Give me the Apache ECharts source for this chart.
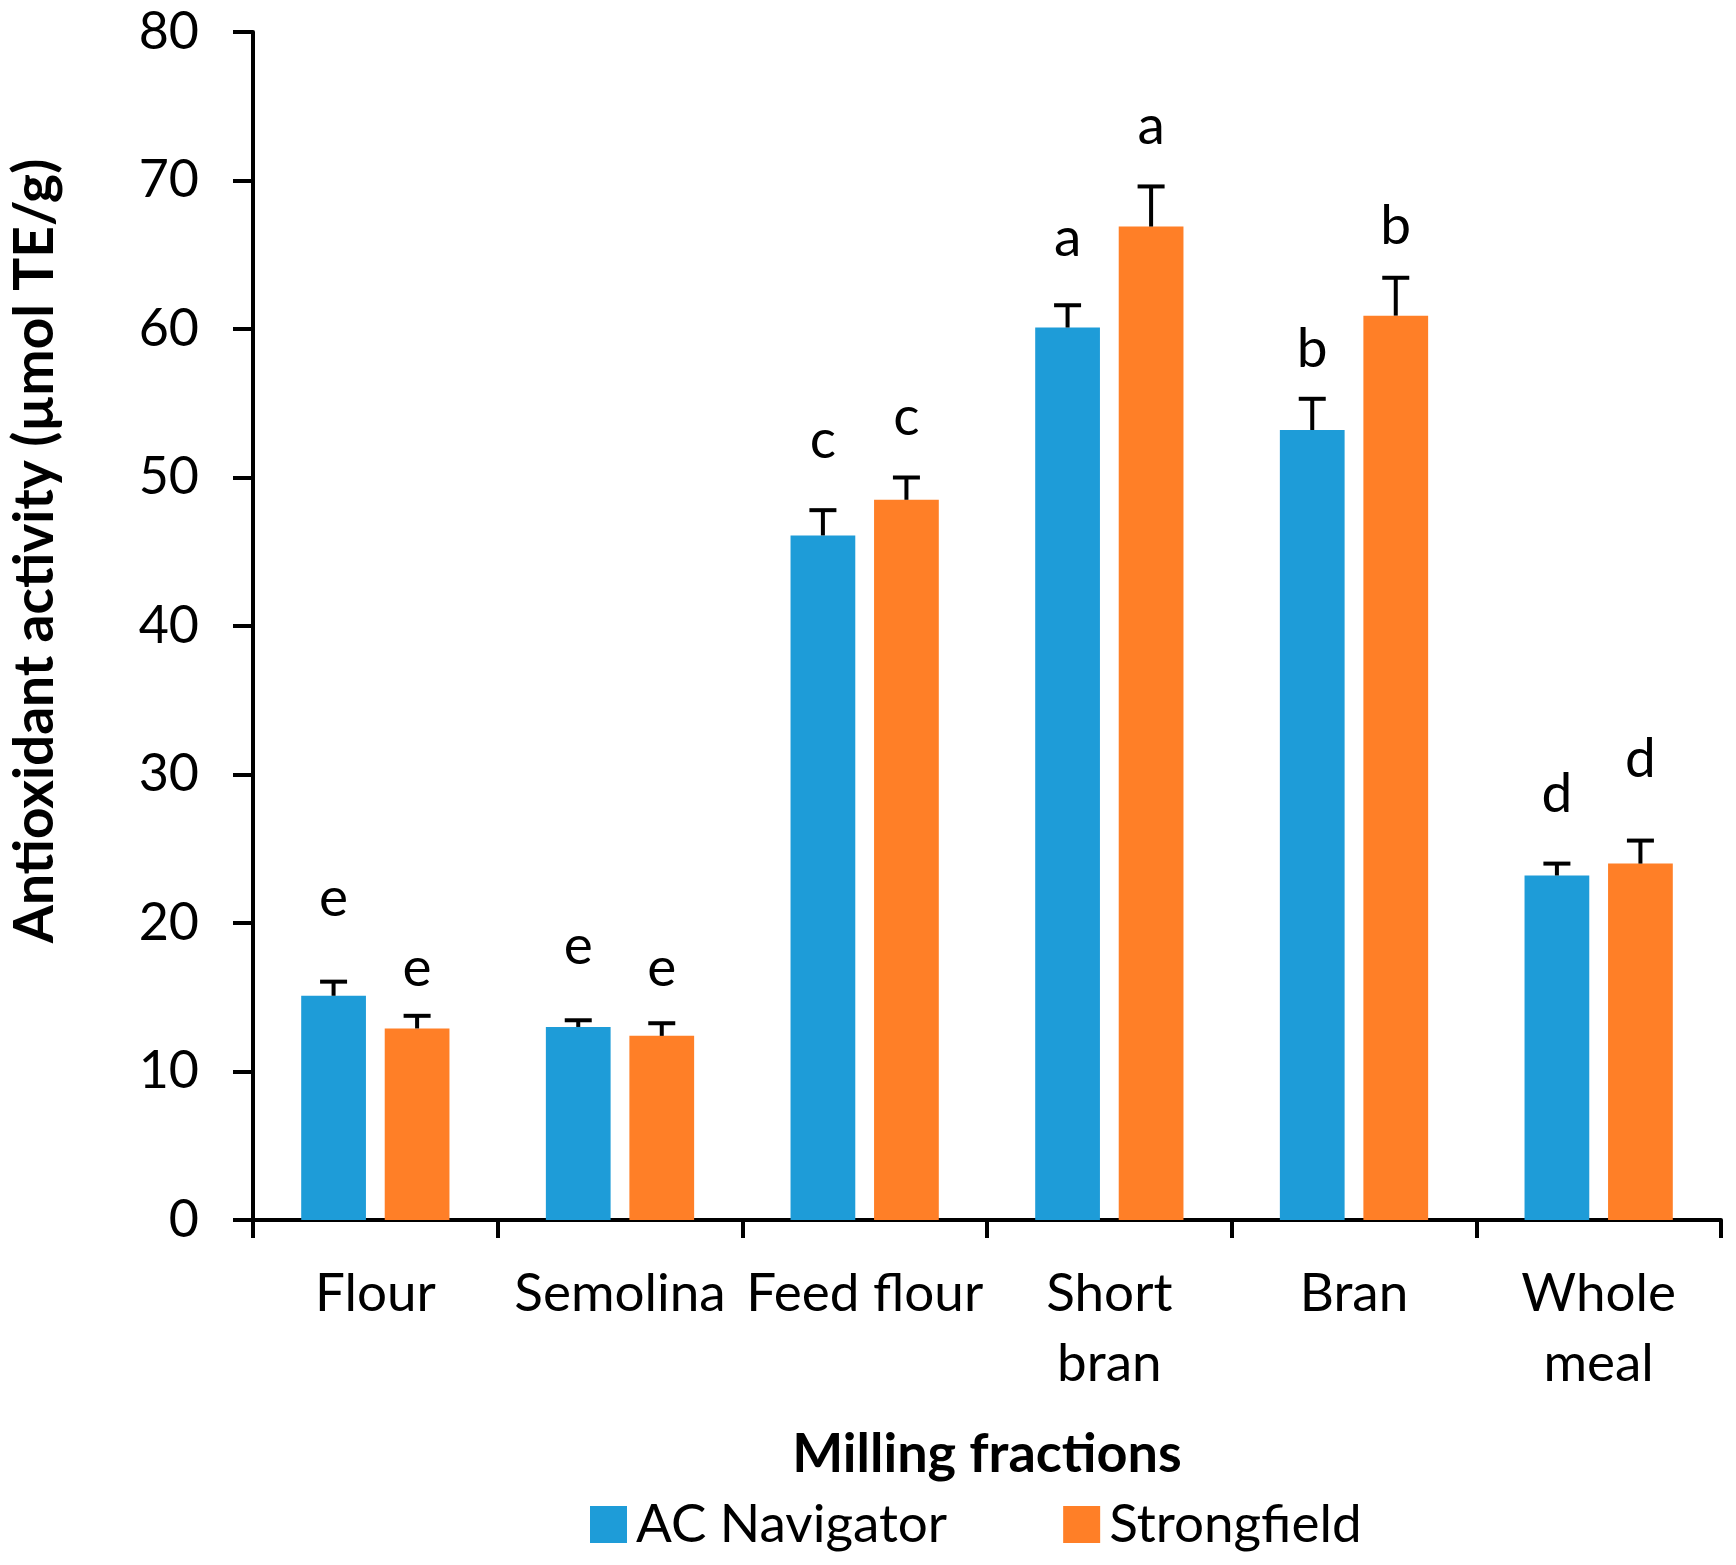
<!DOCTYPE html>
<html>
<head>
<meta charset="utf-8">
<script src="https://cdn.jsdelivr.net/npm/echarts@6/dist/echarts.min.js"></script>
<style>
html,body{margin:0;padding:0;background:#fff;}
#chart{width:1736px;height:1565px;}
</style>
</head>
<body>
<div id="chart"></div>
<script>
// ---- data ----
const categories = ['Flour', 'Semolina', 'Feed flour', 'Short\nbran', 'Bran', 'Whole\nmeal'];
const seriesNames = ['AC Navigator', 'Strongfield'];
const acNavigator = [15.1, 13.0, 46.1, 60.1, 53.2, 23.2];
const strongfield = [12.9, 12.4, 48.5, 66.9, 60.9, 24.0];
const acErr = [0.95, 0.45, 1.7, 1.5, 2.1, 0.8];
const sfErr = [0.85, 0.85, 1.5, 2.7, 2.55, 1.55];
const acLetters = ['e', 'e', 'c', 'a', 'b', 'd'];
const sfLetters = ['e', 'e', 'c', 'a', 'b', 'd'];
const acLetterY = [21.3, 18.1, 52.2, 65.8, 58.3, 28.3];
const sfLetterY = [16.6, 16.6, 53.7, 73.3, 66.6, 30.7];
const yTicks = [0, 10, 20, 30, 40, 50, 60, 70, 80];

// ---- style ----
const FONT = 'Lato';
const BLUE = '#1E9CD8';
const ORANGE = '#FF7F27';
const BAR_GAP = '29%';
const CAT_GAP = '39.4%';

function barOffset(api, idx) {
  let off = null;
  try {
    const lay = api.barLayout({ count: 2, barGap: BAR_GAP, barCategoryGap: CAT_GAP });
    if (lay && lay[idx] && isFinite(lay[idx].offsetCenter)) off = lay[idx].offsetCenter;
  } catch (e) {}
  if (off === null) {
    const band = api.size([1, 0])[0];
    const g = parseFloat(BAR_GAP) / 100, c = parseFloat(CAT_GAP) / 100;
    const w = band * (1 - c) / (2 + g);
    off = (idx === 0 ? -1 : 1) * (w + w * g) / 2;
  }
  return off;
}

function errRender(idx) {
  return function (params, api) {
    const cat = api.value(0), v = api.value(1), e = api.value(2);
    const base = api.coord([cat, v]);
    const top = api.coord([cat, v + e]);
    const x = base[0] + barOffset(api, idx);
    const st = { stroke: '#000', lineWidth: 4 };
    return {
      type: 'group',
      children: [
        { type: 'line', shape: { x1: x, y1: base[1], x2: x, y2: top[1] }, style: st },
        { type: 'line', shape: { x1: x - 13.5, y1: top[1], x2: x + 13.5, y2: top[1] }, style: st }
      ]
    };
  };
}

function letterRender(idx, letters) {
  return function (params, api) {
    const cat = api.value(0), y = api.value(1);
    const p = api.coord([cat, y]);
    const x = p[0] + barOffset(api, idx);
    return {
      type: 'text',
      x: x, y: p[1] - 5,
      style: {
        text: letters[params.dataIndex],
        fill: '#000',
        font: '55px ' + FONT,
        textAlign: 'center',
        textVerticalAlign: 'middle'
      }
    };
  };
}

const chart = echarts.init(document.getElementById('chart'), null, { renderer: 'canvas' });
chart.setOption({
  backgroundColor: '#fff',
  animation: false,
  textStyle: { fontFamily: FONT, color: '#000' },
  grid: { left: 246, right: 15, top: 32, bottom: 345, containLabel: false },
  legend: {
    data: seriesNames,
    left: 585, top: 1493,
    icon: 'rect', itemWidth: 37, itemHeight: 37, itemGap: 116,
    textStyle: { fontSize: 53, fontFamily: FONT, color: '#000', padding: [0, 0, 0, 4] }
  },
  xAxis: {
    type: 'category',
    data: categories,
    name: 'Milling fractions',
    nameLocation: 'middle',
    nameGap: 208,
    nameTextStyle: { fontSize: 54, fontWeight: 'bold', fontFamily: FONT, color: '#000' },
    axisLine: { show: true, lineStyle: { color: '#000', width: 4 } },
    axisTick: { show: true, alignWithLabel: false, length: 18, lineStyle: { color: '#000', width: 4 } },
    axisLabel: { interval: 0, fontSize: 53, lineHeight: 70, margin: 39, color: '#000', fontFamily: FONT },
    splitLine: { show: false }
  },
  yAxis: {
    type: 'value',
    min: yTicks[0], max: yTicks[yTicks.length - 1], interval: yTicks[1] - yTicks[0],
    name: 'Antioxidant activity (µmol TE/g)',
    nameLocation: 'middle',
    nameRotate: 90,
    nameGap: 190,
    nameTextStyle: { fontSize: 55, fontWeight: 'bold', fontFamily: FONT, color: '#000', padding: [0, 0, 0, 150] },
    axisLine: { show: true, lineStyle: { color: '#000', width: 4 } },
    axisTick: { show: true, inside: false, length: 20, lineStyle: { color: '#000', width: 4 } },
    axisLabel: { fontSize: 52, margin: 54, color: '#000', fontFamily: FONT },
    splitLine: { show: false }
  },
  series: [
    { name: seriesNames[0], type: 'bar', data: acNavigator, barGap: BAR_GAP, barCategoryGap: CAT_GAP,
      itemStyle: { color: BLUE }, z: 2 },
    { name: seriesNames[1], type: 'bar', data: strongfield, barGap: BAR_GAP, barCategoryGap: CAT_GAP,
      itemStyle: { color: ORANGE }, z: 2 },
    { type: 'custom', renderItem: errRender(0), data: acNavigator.map((v, i) => [i, v, acErr[i]]), z: 3, silent: true },
    { type: 'custom', renderItem: errRender(1), data: strongfield.map((v, i) => [i, v, sfErr[i]]), z: 3, silent: true },
    { type: 'custom', renderItem: letterRender(0, acLetters), data: acLetterY.map((v, i) => [i, v]), z: 4, silent: true },
    { type: 'custom', renderItem: letterRender(1, sfLetters), data: sfLetterY.map((v, i) => [i, v]), z: 4, silent: true }
  ]
});
</script>
</body>
</html>
